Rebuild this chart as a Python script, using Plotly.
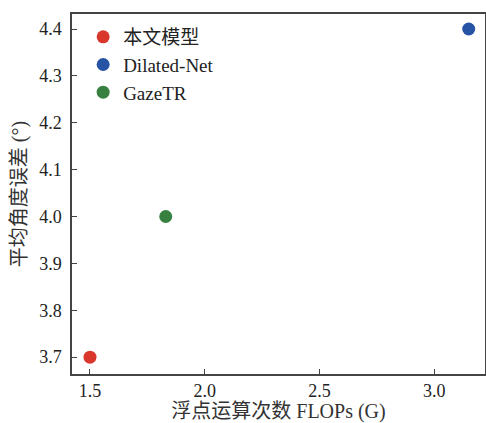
import plotly.graph_objects as go

models = ["本文模型", "Dilated-Net", "GazeTR"]
flops = [1.5, 3.15, 1.83]
errors = [3.7, 4.4, 4.0]
colors = ["#d9362c", "#2653a3", "#37803f"]

x_ticks = [1.5, 2.0, 2.5, 3.0]
y_ticks = [3.7, 3.8, 3.9, 4.0, 4.1, 4.2, 4.3, 4.4]

FONT = "Liberation Serif, Times New Roman, Noto Sans CJK SC, serif"

fig = go.Figure()
for m, fx, e, c in zip(models, flops, errors, colors):
    fig.add_trace(go.Scatter(
        x=[fx], y=[e], mode="markers", name=m,
        marker=dict(size=13, color=c, line=dict(width=0)),
    ))

axis_common = dict(
    showline=True, linecolor="#444", linewidth=1.5, mirror=True,
    ticks="inside", ticklen=5, tickwidth=1.2, tickcolor="#444",
    showgrid=False, zeroline=False, automargin=False,
    tickfont=dict(family=FONT, size=18, color="#222"),
)

fig.update_layout(
    width=486, height=423,
    margin=dict(l=72, r=1, t=14, b=49),
    paper_bgcolor="white", plot_bgcolor="white",
    font=dict(family=FONT, size=18, color="#222"),
    xaxis=dict(range=[1.4216, 3.221], tickvals=x_ticks,
               ticktext=[f"{v:.1f}" for v in x_ticks],
               ticklabelstandoff=0,
               title=dict(text="浮点运算次数 FLOPs (G)", font=dict(family=FONT, size=20, color="#333"), standoff=9),
               **axis_common),
    yaxis=dict(range=[3.664, 4.432], tickvals=y_ticks,
               ticktext=[f"{v:.1f}" for v in y_ticks],
               ticklabelstandoff=5,
               title=dict(text="平均角度误差 (°)", font=dict(family=FONT, size=20, color="#333"), standoff=7),
               **axis_common),
    legend=dict(x=0.027, y=0.989, xanchor="left", yanchor="top",
                bgcolor="rgba(0,0,0,0)", font=dict(family=FONT, size=19, color="#222"),
                itemwidth=30),
    showlegend=True,
)

fig.write_html("out.html", config={"displayModeBar": False},
               post_script="document.body.style.margin='0';document.body.style.overflow='hidden';")
